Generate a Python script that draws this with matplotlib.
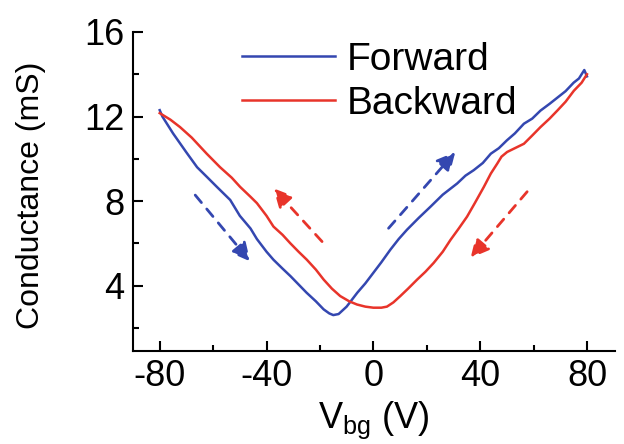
import matplotlib
matplotlib.use('Agg')
import matplotlib.pyplot as plt
from matplotlib.ticker import MultipleLocator

plt.rcParams['font.family'] = ['Liberation Sans', 'DejaVu Sans']
plt.rcParams['mathtext.fontset'] = 'custom'
plt.rcParams['mathtext.rm'] = 'Liberation Sans'
plt.rcParams['axes.unicode_minus'] = False

# forward sweep (-80 -> 80 V)
fwd_v = [-80, -79, -75, -70, -66, -62, -58.6, -53.6, -50, -46, -43.6, -40, -37.4,
         -34, -31, -28, -25, -21.5, -18.6, -16.5, -15, -13, -10, -6, -3, 0, 3,
         6.4, 9.5, 12.6, 17, 21.4, 26, 31.4, 34.5, 37.6, 41, 44, 47, 50, 53,
         56.4, 59.5, 62.6, 66, 69, 72, 75, 77, 79, 80]
fwd_g = [12.3, 12.0, 11.2, 10.3, 9.6, 9.1, 8.67, 8.05, 7.3, 6.7, 6.2, 5.6, 5.22,
         4.8, 4.44, 4.05, 3.66, 3.25, 2.87, 2.68, 2.6, 2.65, 3.0, 3.66, 4.1, 4.6, 5.1,
         5.7, 6.2, 6.64, 7.2, 7.73, 8.3, 8.83, 9.2, 9.46, 9.8, 10.24, 10.5, 10.87, 11.2,
         11.66, 11.9, 12.28, 12.6, 12.9, 13.2, 13.6, 13.8, 14.2, 13.9]

# backward sweep (80 -> -80 V)
bwd_v = [-80, -76, -72.4, -68, -62.4, -57.4, -53, -49.9, -46, -43.6, -40, -37.4,
         -34, -31.1, -28, -24.9, -21.5, -18.6, -15.5, -12.4, -9, -6.1, -3, 0, 3,
         5.1, 7.5, 10.1, 13, 16.4, 19.5, 22.6, 26, 28.9, 32, 35.1, 38, 41.4, 44,
         46.4, 48, 50.1, 53, 56.4, 59.5, 62.6, 66, 68.9, 72, 75.1, 78, 80]
bwd_g = [12.16, 11.85, 11.5, 11.0, 10.24, 9.6, 9.1, 8.67, 8.2, 7.9, 7.3, 6.79,
         6.4, 6.0, 5.6, 5.22, 4.75, 4.28, 3.85, 3.5, 3.25, 3.1, 3.0, 2.95, 2.95,
         3.0, 3.2, 3.5, 3.85, 4.28, 4.65, 5.07, 5.6, 6.16, 6.7, 7.26, 7.9, 8.67, 9.3,
         9.77, 10.1, 10.32, 10.5, 10.71, 11.1, 11.5, 11.9, 12.28, 12.7, 13.22, 13.6, 14.0]

blue = '#3447b0'
red = '#e8342a'

# sweep direction arrows: (start, end)
arrows = [((-66.7, 8.28), (-46.1, 5.14), blue),
          ((-19.2, 6.08), (-37.4, 8.6), red),
          ((5.7, 6.71), (30.7, 10.32), blue),
          ((57.6, 8.44), (36.4, 5.3), red)]

fig = plt.figure(figsize=(6.24, 4.44), dpi=100)
ax = fig.add_axes([133/624, 93/444, 482/624, 319/444])

ax.plot(fwd_v, fwd_g, color=blue, lw=1.8, label='Forward')
ax.plot(bwd_v, bwd_g, color=red, lw=1.8, label='Backward')

for start, end, c in arrows:
    ax.annotate('', xy=end, xytext=start,
                arrowprops=dict(arrowstyle='-|>,head_length=0.8,head_width=0.4',
                                color=c, lw=2.0, ls=(0, (3.5, 3)),
                                mutation_scale=14, shrinkA=0, shrinkB=0))

ax.set_xlim(-90, 90.5)
ax.set_ylim(0.9, 16)
ax.xaxis.set_minor_locator(MultipleLocator(20))
ax.yaxis.set_minor_locator(MultipleLocator(2))
ax.set_yticks([4, 8, 12, 16])
ax.set_xticks([-80, -40, 0, 40, 80])

for s in ['top', 'right']:
    ax.spines[s].set_visible(False)
for s in ['left', 'bottom']:
    ax.spines[s].set_linewidth(1.5)

ax.tick_params(which='major', direction='in', length=7, width=1.5, labelsize=26, pad=6)
ax.tick_params(which='minor', direction='in', length=4, width=1.5)

ax.set_xlabel(r'V$_{\mathrm{bg}}$ (V)', fontsize=26, labelpad=4)
ax.set_ylabel('Conductance (mS)', fontsize=23)
ax.yaxis.set_label_coords(46/624, 249/444, transform=fig.transFigure)

ax.legend(loc='upper left', bbox_to_anchor=(242/624, 1 - 42/444),
          bbox_transform=fig.transFigure, frameon=False, fontsize=28,
          handlelength=2.4, handletextpad=0.3, labelspacing=0.2,
          borderpad=0, borderaxespad=0)

fig.savefig('out.png', dpi=100)
